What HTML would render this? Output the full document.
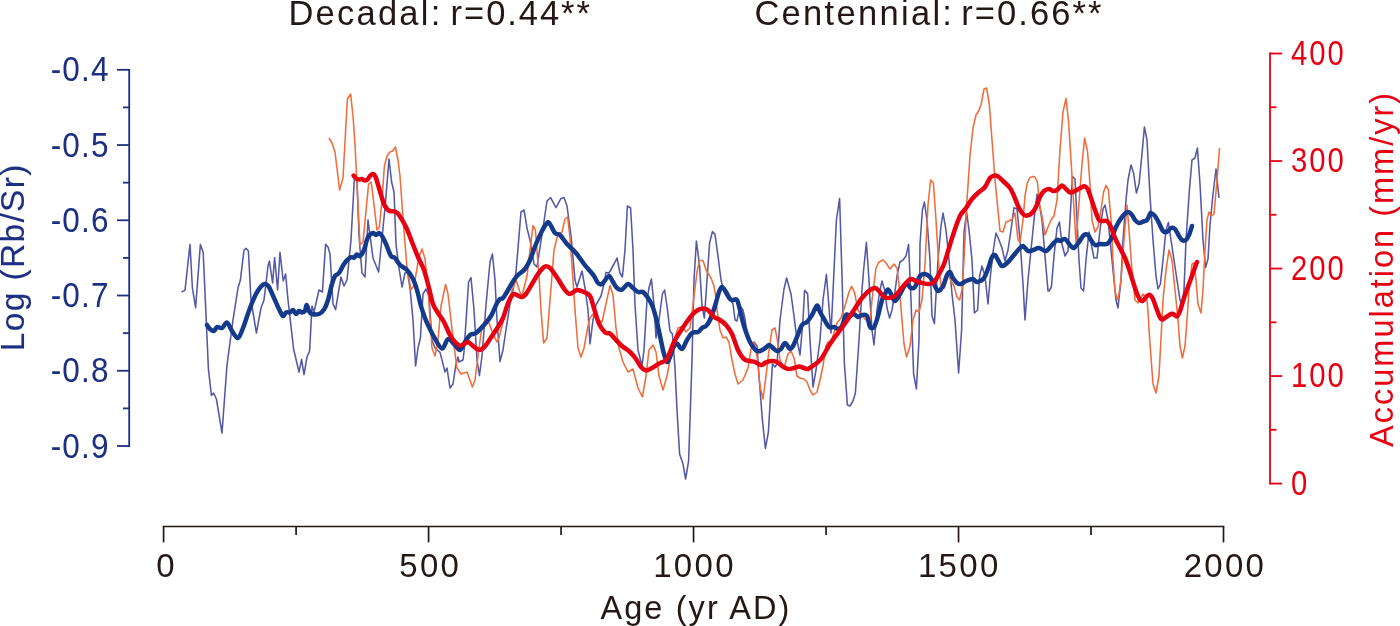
<!DOCTYPE html>
<html lang="en"><head><meta charset="utf-8"><title>Rb/Sr vs Accumulation</title>
<style>
html,body{margin:0;padding:0;background:#fff;}
body{width:1400px;height:626px;overflow:hidden;}
svg{display:block;}
text{font-family:"Liberation Sans",Arial,Helvetica,sans-serif;}
</style></head><body>
<svg width="1400" height="626" viewBox="0 0 1400 626">
<rect width="1400" height="626" fill="#fff"/>
<polyline fill="none" stroke="#5458a6" stroke-width="1.55" stroke-linejoin="round" points="181.6,292.0 185.0,290.4 190.0,244.4 192.4,288.0 195.6,307.6 200.4,244.4 203.2,252.4 208.4,369.0 211.4,395.4 213.6,393.0 216.4,399.0 222.0,433.0 227.0,365.0 233.0,320.0 238.0,288.0 240.4,280.0 244.0,250.0 246.0,248.4 248.4,251.0 251.0,300.0 256.4,333.0 261.0,308.0 264.0,300.0 268.0,266.0 269.4,261.0 272.6,283.0 274.6,257.6 277.6,290.0 280.0,252.4 283.2,281.0 285.6,274.0 288.0,300.0 293.6,349.0 299.0,372.0 301.6,359.4 304.0,374.6 307.0,357.0 309.6,351.0 312.0,306.0 314.0,312.0 319.0,290.0 322.4,292.0 325.6,244.4 328.0,247.0 330.0,254.0 333.0,304.0 335.6,309.6 341.0,277.0 344.0,286.0 347.0,280.0 351.0,240.0 354.4,178.0 357.0,180.0 359.0,236.0 362.0,273.0 365.0,277.0 368.0,220.0 373.0,258.0 378.6,272.0 385.0,208.0 389.0,159.0 391.6,182.0 394.0,192.0 396.0,244.0 399.0,268.0 402.0,287.0 405.0,273.0 407.4,272.0 410.0,288.0 413.0,320.0 415.6,366.0 418.0,348.0 420.4,338.0 423.0,294.0 426.0,289.0 429.0,296.0 432.0,340.0 435.0,348.0 440.0,352.4 443.0,364.0 445.0,372.0 447.0,368.0 450.0,388.0 453.0,384.0 456.0,364.0 458.0,357.0 459.0,362.0 463.0,360.0 464.0,352.0 467.0,306.0 468.6,282.0 471.0,277.6 474.0,310.0 477.0,360.0 479.4,375.6 482.0,356.0 486.0,305.0 490.0,262.0 492.4,254.0 495.0,280.0 497.0,320.0 500.0,361.6 503.0,350.0 507.0,323.0 510.0,304.0 513.0,290.0 516.0,272.0 521.0,212.0 524.0,210.0 527.0,228.0 530.0,240.0 534.0,264.0 537.0,267.0 543.0,228.0 547.0,201.0 550.6,197.6 556.0,207.6 561.0,198.4 564.0,197.6 567.0,206.0 571.0,236.0 575.0,280.0 577.0,287.0 582.0,271.0 585.0,288.0 588.0,310.0 590.0,344.0 593.0,320.0 596.0,305.0 601.0,296.0 604.0,284.0 606.0,272.4 609.0,273.0 614.0,264.0 617.0,258.0 620.0,273.0 622.4,277.0 625.0,250.0 627.4,206.0 630.6,208.0 633.0,250.0 635.0,305.0 638.0,350.0 642.0,366.0 644.0,350.0 647.0,300.0 649.0,288.0 651.4,279.0 654.0,305.0 656.0,338.0 659.0,320.0 662.4,294.0 664.6,290.0 667.0,306.0 670.0,331.0 672.4,334.0 675.0,368.0 677.0,410.0 679.6,454.0 683.0,464.0 685.6,479.0 688.6,461.0 690.0,420.0 692.0,360.0 694.0,280.0 696.4,241.0 699.6,266.0 702.0,306.0 704.4,318.0 707.0,280.0 709.6,243.0 712.4,231.6 715.0,234.4 718.0,256.0 721.0,280.0 724.0,292.0 726.0,295.6 730.0,299.0 733.0,304.0 735.0,320.0 737.0,321.0 740.0,306.0 743.0,310.0 745.0,319.0 748.0,340.0 751.0,346.0 754.0,342.0 757.0,346.0 759.0,376.0 762.4,420.0 765.4,448.4 768.4,432.0 770.0,405.0 772.4,364.0 775.0,367.0 777.0,364.0 780.0,320.0 784.0,289.0 786.6,278.0 791.0,294.0 794.0,316.0 797.0,340.0 800.0,355.0 803.0,320.0 804.6,290.4 807.6,293.6 810.0,340.0 813.0,387.0 816.0,370.0 820.0,340.0 823.0,300.0 826.4,274.4 831.0,333.0 833.0,292.0 836.4,220.0 839.6,198.4 842.0,276.0 844.4,364.0 847.4,405.0 850.0,406.0 853.0,401.0 855.4,393.0 859.0,340.0 862.0,290.0 863.6,270.0 866.4,242.4 869.0,280.0 870.0,300.0 872.0,330.0 874.0,345.0 877.0,310.0 879.6,292.0 882.0,281.0 885.0,291.0 887.0,308.0 889.6,318.0 892.0,310.0 894.4,296.0 897.0,276.0 900.0,262.0 903.0,260.0 906.0,256.0 908.6,244.4 911.0,300.0 913.6,374.0 916.4,389.0 919.0,340.0 920.0,244.0 922.4,210.0 924.4,202.0 927.0,220.0 930.0,260.0 932.0,316.0 934.4,323.6 938.0,260.0 941.0,226.0 943.0,213.0 946.0,230.0 949.0,260.0 952.0,294.0 955.0,320.0 958.6,373.0 961.6,330.0 964.0,232.0 966.6,212.0 969.0,230.0 972.0,260.0 974.4,313.0 977.6,310.0 979.6,276.0 982.0,266.0 985.0,276.0 988.0,304.0 990.0,280.0 993.0,252.0 996.0,233.0 999.0,240.0 1002.0,248.0 1005.0,261.0 1008.0,250.0 1011.0,230.0 1014.0,207.6 1017.0,209.0 1020.0,240.0 1023.0,284.0 1025.0,320.0 1028.0,280.0 1031.0,250.0 1034.0,220.0 1037.0,194.0 1039.0,202.0 1042.0,220.0 1045.0,256.0 1048.0,291.0 1049.0,291.0 1051.4,287.0 1054.0,256.0 1057.0,228.0 1059.4,222.0 1062.0,244.0 1065.0,256.0 1068.0,251.0 1070.0,220.0 1072.4,176.4 1075.0,179.0 1079.0,260.0 1081.0,288.0 1083.6,291.0 1086.0,260.0 1089.0,232.0 1092.0,248.0 1094.0,258.0 1097.0,258.0 1100.0,230.0 1103.0,209.0 1105.0,205.0 1108.0,220.0 1111.0,250.0 1114.0,280.0 1116.0,300.0 1118.0,308.0 1121.0,280.0 1123.0,240.0 1126.0,200.0 1128.0,180.0 1131.0,165.0 1133.6,173.0 1136.4,193.0 1139.0,184.0 1142.0,154.0 1144.4,127.0 1147.0,140.0 1150.0,196.0 1153.0,240.0 1156.0,276.0 1158.0,289.0 1160.4,284.0 1163.0,260.0 1166.0,230.0 1168.4,222.4 1171.0,240.0 1174.0,260.0 1177.0,280.0 1180.0,300.0 1182.0,305.0 1184.0,290.0 1186.0,240.0 1189.4,190.0 1192.0,160.0 1195.0,158.0 1197.4,148.0 1200.0,184.0 1203.0,240.0 1205.6,267.6 1208.0,259.0 1210.0,225.0 1213.0,194.0 1216.0,169.0 1219.0,198.0"/>
<polyline fill="none" stroke="#f06c3a" stroke-width="1.55" stroke-linejoin="round" points="329.0,138.0 332.0,143.0 335.0,152.0 339.6,190.0 343.0,178.0 347.4,99.0 350.6,94.0 353.0,116.0 355.0,144.0 360.0,245.0 363.0,242.0 368.6,184.0 371.0,182.0 372.0,188.0 377.0,230.0 379.4,227.0 382.0,200.0 384.4,166.0 387.0,156.0 390.0,152.0 392.6,151.0 395.4,147.0 398.0,160.0 400.0,176.0 403.0,218.0 407.0,268.0 411.0,289.6 414.0,286.0 419.0,257.0 422.0,249.0 425.0,259.0 428.0,289.0 432.0,348.0 435.0,356.0 438.0,340.0 441.0,306.0 445.6,284.4 448.0,294.0 451.0,320.0 454.0,346.0 457.0,368.0 461.0,374.0 467.0,372.0 472.4,387.0 475.0,380.0 479.0,348.0 482.0,327.0 485.0,320.0 489.0,323.0 493.0,334.0 497.0,342.0 499.0,338.0 502.0,326.0 505.0,314.0 508.0,306.0 512.0,290.0 516.0,280.0 520.0,292.0 522.0,296.0 527.0,276.0 533.0,225.6 535.4,230.0 539.0,276.0 541.0,310.0 543.6,343.0 547.0,338.0 551.0,288.0 554.0,250.0 558.0,234.0 562.0,232.4 565.0,219.0 567.6,217.0 570.0,238.0 573.0,280.0 575.0,310.0 578.0,348.0 581.0,357.0 584.0,348.0 588.0,326.0 590.0,318.0 593.0,314.0 597.0,320.0 602.0,322.0 606.0,304.0 610.0,285.6 613.0,295.0 616.0,328.0 619.0,348.0 623.0,362.0 628.0,372.0 633.0,369.0 638.0,388.0 642.4,397.0 646.0,376.0 649.0,350.0 653.0,345.0 656.0,352.0 659.0,376.0 663.0,390.0 667.0,376.0 670.0,360.0 674.0,340.0 678.0,328.0 682.0,326.4 686.0,332.0 690.0,328.0 693.0,305.0 697.0,272.0 699.6,260.4 703.0,260.4 706.0,270.0 711.0,278.0 714.0,286.0 716.0,298.0 717.0,310.0 720.0,330.0 723.0,338.0 726.0,337.0 729.0,342.0 732.0,360.0 735.0,374.0 738.0,384.0 743.0,380.0 748.0,368.0 751.0,349.0 754.0,342.0 757.0,356.0 760.0,386.0 763.0,399.0 766.0,376.0 769.0,350.0 772.0,330.0 775.0,328.0 777.0,338.0 780.0,360.0 784.0,368.0 788.0,354.0 791.0,351.0 794.0,358.0 797.0,376.0 800.0,378.0 804.0,379.0 807.0,382.0 810.0,390.0 813.0,395.0 817.0,392.0 820.0,380.0 823.0,366.0 826.0,346.0 828.0,342.0 831.0,344.0 833.0,336.0 837.0,323.0 841.0,318.0 845.0,306.0 849.0,292.0 851.6,286.4 854.4,292.0 858.0,310.0 862.0,316.0 866.0,320.0 870.0,323.0 872.0,300.0 876.0,268.0 879.0,262.0 883.0,260.0 886.0,263.0 890.0,269.0 894.0,264.0 897.0,268.0 899.0,284.0 902.0,320.0 904.0,344.0 906.6,357.0 910.0,346.0 913.0,320.0 916.0,310.0 919.0,312.0 922.0,300.0 925.0,264.0 928.0,205.0 930.6,180.0 933.4,183.0 936.0,220.0 939.0,268.0 941.0,285.0 944.4,288.0 948.4,275.0 951.0,281.0 954.0,286.0 957.0,297.0 959.6,300.0 962.0,290.0 964.0,260.0 967.0,200.0 970.0,156.0 973.0,128.0 976.0,115.0 978.6,111.0 981.0,105.0 984.0,89.0 986.6,88.0 989.4,105.0 992.0,140.0 995.0,180.0 997.0,200.0 1000.0,231.0 1003.0,232.0 1006.0,222.0 1009.0,221.0 1012.4,219.0 1015.0,213.0 1018.0,240.0 1020.0,242.0 1023.0,220.0 1025.0,196.0 1027.0,184.0 1029.6,178.0 1032.4,176.4 1035.0,177.0 1037.4,182.0 1039.6,205.0 1042.0,216.0 1045.0,235.0 1048.0,227.0 1051.0,220.0 1054.0,216.0 1057.0,200.0 1060.0,150.0 1063.0,112.0 1066.0,98.4 1068.6,122.0 1071.0,160.0 1076.0,242.0 1082.0,164.0 1084.6,138.0 1087.6,152.0 1090.0,184.0 1092.0,220.0 1095.0,232.0 1098.0,227.0 1101.0,210.0 1103.6,192.0 1106.0,185.4 1108.4,189.6 1111.0,220.0 1113.0,260.0 1115.0,292.0 1118.0,300.0 1121.0,280.0 1124.0,240.0 1127.0,205.0 1129.0,230.0 1132.0,270.0 1135.0,300.0 1138.0,303.0 1143.0,294.0 1147.0,300.0 1148.6,320.0 1149.0,330.0 1153.0,384.0 1156.0,393.0 1159.0,376.0 1162.0,320.0 1163.0,300.0 1166.0,270.0 1169.0,250.0 1172.0,260.0 1175.0,290.0 1178.0,320.0 1180.0,346.0 1182.4,358.0 1185.0,346.0 1187.0,320.0 1189.0,290.0 1192.0,264.0 1194.0,263.0 1196.0,280.0 1198.0,304.0 1201.0,313.0 1203.0,290.0 1205.0,250.0 1207.0,220.0 1209.0,212.0 1211.4,216.0 1214.0,214.0 1217.0,180.0 1219.6,148.0"/>
<path fill="none" stroke="#143a8c" stroke-width="4.5" stroke-linejoin="round" stroke-linecap="round" d="M207.0,325.0C207.5,325.7 208.8,328.0 210.0,329.0C211.2,330.0 212.8,331.3 214.0,331.0C215.2,330.7 215.7,327.5 217.0,327.0C218.3,326.5 220.3,328.7 222.0,328.0C223.7,327.3 225.3,322.1 227.0,322.6C228.7,323.1 230.2,328.4 232.0,331.0C233.8,333.6 236.2,338.5 238.0,338.0C239.8,337.5 241.0,333.0 243.0,328.0C245.0,323.0 247.8,313.7 250.0,308.0C252.2,302.3 254.2,297.6 256.0,294.0C257.8,290.4 259.5,288.1 261.0,286.4C262.5,284.7 263.7,283.9 265.0,284.0C266.3,284.1 267.5,284.7 269.0,287.0C270.5,289.3 272.3,294.3 274.0,298.0C275.7,301.7 277.5,306.0 279.0,309.0C280.5,312.0 281.8,315.4 283.0,316.0C284.2,316.6 284.8,313.0 286.0,312.4C287.2,311.8 288.8,312.8 290.0,312.4C291.2,312.0 292.0,309.7 293.0,310.0C294.0,310.3 295.0,313.8 296.0,314.0C297.0,314.2 298.0,311.3 299.0,311.0C300.0,310.7 301.0,312.4 302.0,312.4C303.0,312.4 304.2,312.2 305.0,311.0C305.8,309.8 305.9,305.0 306.6,305.0C307.3,305.0 308.1,309.5 309.0,311.0C309.9,312.5 310.3,313.5 312.0,314.0C313.7,314.5 317.0,314.7 319.0,314.0C321.0,313.3 322.5,311.9 324.0,309.6C325.5,307.3 326.7,304.3 328.0,300.0C329.3,295.7 330.8,288.0 332.0,284.0C333.2,280.0 333.8,277.8 335.0,276.0C336.2,274.2 337.5,275.0 339.0,273.0C340.5,271.0 342.2,266.6 344.0,264.0C345.8,261.4 348.3,258.7 350.0,257.6C351.7,256.5 352.8,258.1 354.0,257.6C355.2,257.1 356.0,254.7 357.0,254.4C358.0,254.1 358.8,256.7 360.0,256.0C361.2,255.3 362.7,253.2 364.0,250.0C365.3,246.8 366.5,239.8 368.0,237.0C369.5,234.2 371.7,233.3 373.0,233.0C374.3,232.7 375.0,235.0 376.0,235.0C377.0,235.0 378.0,232.8 379.0,233.0C380.0,233.2 380.8,234.2 382.0,236.0C383.2,237.8 384.5,240.7 386.0,244.0C387.5,247.3 389.5,253.7 391.0,256.0C392.5,258.3 393.5,256.5 395.0,258.0C396.5,259.5 398.0,263.0 400.0,265.0C402.0,267.0 404.8,267.7 407.0,270.0C409.2,272.3 411.3,275.7 413.0,279.0C414.7,282.3 415.7,285.5 417.0,290.0C418.3,294.5 419.7,301.3 421.0,306.0C422.3,310.7 423.8,314.8 425.0,318.0C426.2,321.2 426.5,321.8 428.0,325.0C429.5,328.2 431.7,333.1 434.0,337.0C436.3,340.9 439.7,348.3 442.0,348.6C444.3,348.9 446.0,339.8 448.0,339.0C450.0,338.2 452.0,342.2 454.0,344.0C456.0,345.8 458.2,350.3 460.0,350.0C461.8,349.7 463.3,344.5 465.0,342.0C466.7,339.5 468.2,336.5 470.0,335.0C471.8,333.5 473.7,334.7 476.0,333.0C478.3,331.3 481.5,327.8 484.0,325.0C486.5,322.2 488.8,319.7 491.0,316.0C493.2,312.3 495.5,305.8 497.0,303.0C498.5,300.2 499.0,299.8 500.0,299.0C501.0,298.2 501.7,299.5 503.0,298.0C504.3,296.5 506.2,293.0 508.0,290.0C509.8,287.0 512.3,282.5 514.0,280.0C515.7,277.5 516.2,276.8 518.0,275.0C519.8,273.2 523.0,271.5 525.0,269.0C527.0,266.5 528.2,264.2 530.0,260.0C531.8,255.8 534.0,248.8 536.0,244.0C538.0,239.2 540.2,234.5 542.0,231.0C543.8,227.5 545.7,224.2 547.0,223.0C548.3,221.8 548.7,222.3 550.0,224.0C551.3,225.7 553.3,231.2 555.0,233.0C556.7,234.8 558.0,233.2 560.0,235.0C562.0,236.8 564.3,241.0 567.0,244.0C569.7,247.0 573.2,249.7 576.0,253.0C578.8,256.3 581.7,261.0 584.0,264.0C586.3,267.0 588.3,269.0 590.0,271.0C591.7,273.0 592.7,274.0 594.0,276.0C595.3,278.0 596.7,281.7 598.0,283.0C599.3,284.3 600.7,284.7 602.0,284.0C603.3,283.3 604.8,280.3 606.0,279.0C607.2,277.7 608.2,275.5 609.4,276.0C610.6,276.5 611.7,280.0 613.0,282.0C614.3,284.0 615.5,286.7 617.0,288.0C618.5,289.3 620.2,290.3 622.0,289.6C623.8,288.9 626.2,284.3 628.0,284.0C629.8,283.7 631.3,286.7 633.0,288.0C634.7,289.3 636.3,291.3 638.0,292.0C639.7,292.7 641.3,291.0 643.0,292.0C644.7,293.0 646.4,295.7 648.0,298.0C649.6,300.3 651.1,302.7 652.4,306.0C653.7,309.3 654.7,313.0 656.0,318.0C657.3,323.0 658.7,330.0 660.0,336.0C661.3,342.0 662.8,349.7 664.0,354.0C665.2,358.3 666.0,361.5 667.0,362.0C668.0,362.5 669.0,359.3 670.0,357.0C671.0,354.7 671.8,350.2 673.0,348.0C674.2,345.8 675.5,343.4 677.0,343.6C678.5,343.8 680.3,349.6 682.0,349.0C683.7,348.4 685.3,342.7 687.0,340.0C688.7,337.3 690.2,334.3 692.0,333.0C693.8,331.7 696.3,332.8 698.0,332.0C699.7,331.2 700.7,329.0 702.0,328.0C703.3,327.0 704.7,327.3 706.0,326.0C707.3,324.7 708.5,323.3 710.0,320.0C711.5,316.7 713.5,310.7 715.0,306.0C716.5,301.3 717.8,295.2 719.0,292.0C720.2,288.8 720.8,287.0 722.0,287.0C723.2,287.0 724.7,290.0 726.0,292.0C727.3,294.0 728.8,297.7 730.0,299.0C731.2,300.3 731.8,299.8 733.0,300.0C734.2,300.2 735.8,298.3 737.0,300.0C738.2,301.7 738.8,305.7 740.0,310.0C741.2,314.3 742.3,320.7 744.0,326.0C745.7,331.3 747.8,337.8 750.0,342.0C752.2,346.2 754.7,349.8 757.0,351.0C759.3,352.2 762.0,350.0 764.0,349.0C766.0,348.0 767.5,345.2 769.0,345.0C770.5,344.8 771.7,347.0 773.0,348.0C774.3,349.0 775.7,350.8 777.0,351.0C778.3,351.2 779.7,350.3 781.0,349.0C782.3,347.7 783.5,343.0 785.0,343.0C786.5,343.0 788.7,348.5 790.0,349.0C791.3,349.5 791.8,348.0 793.0,346.0C794.2,344.0 795.5,340.5 797.0,337.0C798.5,333.5 800.3,327.5 802.0,325.0C803.7,322.5 805.3,323.7 807.0,322.0C808.7,320.3 810.3,317.7 812.0,315.0C813.7,312.3 815.7,306.1 817.0,305.6C818.3,305.1 818.8,309.8 820.0,312.0C821.2,314.2 822.5,316.5 824.0,319.0C825.5,321.5 827.3,325.7 829.0,327.0C830.7,328.3 832.5,326.7 834.0,327.0C835.5,327.3 836.7,329.2 838.0,329.0C839.3,328.8 840.7,328.3 842.0,326.0C843.3,323.7 844.7,316.7 846.0,315.0C847.3,313.3 848.7,316.2 850.0,316.0C851.3,315.8 852.7,313.8 854.0,314.0C855.3,314.2 856.7,316.8 858.0,317.0C859.3,317.2 860.5,315.2 862.0,315.0C863.5,314.8 865.7,314.0 867.0,316.0C868.3,318.0 868.8,325.2 870.0,327.0C871.2,328.8 872.7,328.8 874.0,327.0C875.3,325.2 876.7,320.5 878.0,316.0C879.3,311.5 880.8,303.7 882.0,300.0C883.2,296.3 884.0,295.7 885.0,294.0C886.0,292.3 887.0,289.6 888.0,289.6C889.0,289.6 889.8,292.1 891.0,294.0C892.2,295.9 893.5,301.0 895.0,301.0C896.5,301.0 898.2,296.8 900.0,294.0C901.8,291.2 904.2,285.0 906.0,284.0C907.8,283.0 909.5,287.5 911.0,288.0C912.5,288.5 913.5,289.0 915.0,287.0C916.5,285.0 918.3,278.2 920.0,276.0C921.7,273.8 923.3,273.8 925.0,274.0C926.7,274.2 928.5,275.3 930.0,277.0C931.5,278.7 932.7,281.7 934.0,284.0C935.3,286.3 936.5,290.7 938.0,291.0C939.5,291.3 941.5,288.7 943.0,286.0C944.5,283.3 945.8,277.3 947.0,275.0C948.2,272.7 949.0,271.5 950.0,272.0C951.0,272.5 951.8,276.2 953.0,278.0C954.2,279.8 955.7,282.0 957.0,283.0C958.3,284.0 959.5,284.3 961.0,284.0C962.5,283.7 964.0,281.8 966.0,281.0C968.0,280.2 971.2,278.8 973.0,279.0C974.8,279.2 975.2,282.2 977.0,282.0C978.8,281.8 982.0,280.7 984.0,278.0C986.0,275.3 987.7,269.5 989.0,266.0C990.3,262.5 991.0,258.8 992.0,257.0C993.0,255.2 994.0,254.5 995.0,255.0C996.0,255.5 996.8,258.2 998.0,260.0C999.2,261.8 1000.5,265.5 1002.0,266.0C1003.5,266.5 1005.0,264.8 1007.0,263.0C1009.0,261.2 1012.0,257.3 1014.0,255.0C1016.0,252.7 1017.5,250.5 1019.0,249.0C1020.5,247.5 1021.5,245.7 1023.0,246.0C1024.5,246.3 1026.3,250.3 1028.0,251.0C1029.7,251.7 1031.2,250.5 1033.0,250.0C1034.8,249.5 1036.8,247.8 1039.0,248.0C1041.2,248.2 1043.8,251.5 1046.0,251.0C1048.2,250.5 1050.2,246.8 1052.0,245.0C1053.8,243.2 1055.7,240.7 1057.0,240.0C1058.3,239.3 1058.7,241.2 1060.0,241.0C1061.3,240.8 1063.3,238.3 1065.0,239.0C1066.7,239.7 1068.5,243.5 1070.0,245.0C1071.5,246.5 1072.5,248.5 1074.0,248.0C1075.5,247.5 1077.3,244.2 1079.0,242.0C1080.7,239.8 1082.5,236.2 1084.0,235.0C1085.5,233.8 1086.8,234.2 1088.0,235.0C1089.2,235.8 1089.8,238.3 1091.0,240.0C1092.2,241.7 1093.5,244.3 1095.0,245.0C1096.5,245.7 1098.0,244.2 1100.0,244.0C1102.0,243.8 1105.2,244.8 1107.0,244.0C1108.8,243.2 1109.5,241.8 1111.0,239.0C1112.5,236.2 1114.2,230.7 1116.0,227.0C1117.8,223.3 1120.0,219.5 1122.0,217.0C1124.0,214.5 1126.3,212.3 1128.0,212.0C1129.7,211.7 1130.8,213.7 1132.0,215.0C1133.2,216.3 1133.8,218.7 1135.0,220.0C1136.2,221.3 1137.7,222.7 1139.0,223.0C1140.3,223.3 1141.7,222.1 1143.0,221.6C1144.3,221.1 1145.8,221.3 1147.0,220.0C1148.2,218.7 1149.3,215.2 1150.0,214.0C1150.7,212.8 1150.2,212.7 1151.0,213.0C1151.8,213.3 1153.7,214.3 1155.0,216.0C1156.3,217.7 1157.7,220.5 1159.0,223.0C1160.3,225.5 1161.7,229.5 1163.0,231.0C1164.3,232.5 1165.7,232.5 1167.0,232.0C1168.3,231.5 1169.7,228.5 1171.0,228.0C1172.3,227.5 1173.7,227.7 1175.0,229.0C1176.3,230.3 1177.8,234.2 1179.0,236.0C1180.2,237.8 1180.8,239.3 1182.0,240.0C1183.2,240.7 1184.8,240.8 1186.0,240.0C1187.2,239.2 1188.0,237.3 1189.0,235.0C1190.0,232.7 1191.5,227.5 1192.0,226.0"/>
<path fill="none" stroke="#e60012" stroke-width="4.5" stroke-linejoin="round" stroke-linecap="round" d="M353.6,175.6C354.2,176.2 355.9,178.4 357.0,179.0C358.1,179.6 359.2,179.4 360.0,179.4C360.8,179.4 361.2,178.8 362.0,179.0C362.8,179.2 364.0,180.6 365.0,180.6C366.0,180.6 367.2,179.8 368.0,179.0C368.8,178.2 369.2,176.8 370.0,176.0C370.8,175.2 372.1,173.8 373.0,174.0C373.9,174.2 374.6,174.7 375.6,177.0C376.6,179.3 377.9,184.5 379.0,188.0C380.1,191.5 381.2,195.3 382.0,198.0C382.8,200.7 383.2,202.2 384.0,204.0C384.8,205.8 386.0,207.8 387.0,209.0C388.0,210.2 388.7,210.6 390.0,211.0C391.3,211.4 393.5,210.9 395.0,211.6C396.5,212.3 397.2,212.4 399.0,215.0C400.8,217.6 403.8,222.5 406.0,227.0C408.2,231.5 410.0,237.0 412.0,242.0C414.0,247.0 416.0,252.3 418.0,257.0C420.0,261.7 422.2,264.8 424.0,270.0C425.8,275.2 427.5,282.3 429.0,288.0C430.5,293.7 431.5,299.8 433.0,304.0C434.5,308.2 436.2,310.0 438.0,313.0C439.8,316.0 442.0,318.3 444.0,322.0C446.0,325.7 448.0,331.5 450.0,335.0C452.0,338.5 454.3,341.2 456.0,343.0C457.7,344.8 458.7,345.4 460.0,345.6C461.3,345.8 462.7,344.6 464.0,344.0C465.3,343.4 466.7,341.8 468.0,342.0C469.3,342.2 470.5,343.8 472.0,345.0C473.5,346.2 475.5,348.2 477.0,349.0C478.5,349.8 479.5,350.3 481.0,349.6C482.5,348.9 484.2,347.3 486.0,345.0C487.8,342.7 490.0,339.0 492.0,336.0C494.0,333.0 496.2,330.0 498.0,327.0C499.8,324.0 501.5,321.5 503.0,318.0C504.5,314.5 505.7,309.5 507.0,306.0C508.3,302.5 509.8,299.0 511.0,297.0C512.2,295.0 512.8,294.2 514.0,294.0C515.2,293.8 516.7,295.1 518.0,295.6C519.3,296.1 520.7,297.3 522.0,297.0C523.3,296.7 524.3,296.2 526.0,294.0C527.7,291.8 530.0,287.3 532.0,284.0C534.0,280.7 536.2,276.7 538.0,274.0C539.8,271.3 541.5,269.3 543.0,268.0C544.5,266.7 545.7,266.2 547.0,266.4C548.3,266.6 549.2,266.9 551.0,269.0C552.8,271.1 555.7,275.5 558.0,279.0C560.3,282.5 563.0,287.5 565.0,290.0C567.0,292.5 568.0,294.0 570.0,294.0C572.0,294.0 574.7,290.3 577.0,290.0C579.3,289.7 581.8,291.0 584.0,292.0C586.2,293.0 588.3,293.3 590.0,296.0C591.7,298.7 592.5,303.8 594.0,308.4C595.5,313.0 597.2,319.6 599.0,323.6C600.8,327.6 603.2,330.7 605.0,332.4C606.8,334.1 608.2,332.3 610.0,333.6C611.8,334.9 614.0,337.9 616.0,340.0C618.0,342.1 619.7,344.0 622.0,346.0C624.3,348.0 627.7,349.8 630.0,352.0C632.3,354.2 634.2,356.5 636.0,359.0C637.8,361.5 639.3,365.1 641.0,367.0C642.7,368.9 644.2,370.2 646.0,370.4C647.8,370.6 649.8,369.1 652.0,368.0C654.2,366.9 656.7,364.9 659.0,363.6C661.3,362.3 664.2,361.9 666.0,360.0C667.8,358.1 668.7,355.0 670.0,352.0C671.3,349.0 672.3,345.3 674.0,342.0C675.7,338.7 678.0,335.2 680.0,332.0C682.0,328.8 684.0,325.8 686.0,323.0C688.0,320.2 690.0,317.2 692.0,315.0C694.0,312.8 696.0,311.1 698.0,310.0C700.0,308.9 702.2,308.4 704.0,308.6C705.8,308.8 707.3,309.6 709.0,311.0C710.7,312.4 712.2,315.5 714.0,317.0C715.8,318.5 718.0,318.7 720.0,320.0C722.0,321.3 724.0,322.7 726.0,325.0C728.0,327.3 730.0,329.8 732.0,334.0C734.0,338.2 736.0,345.8 738.0,350.0C740.0,354.2 742.0,357.2 744.0,359.0C746.0,360.8 748.2,360.5 750.0,361.0C751.8,361.5 753.2,361.3 755.0,362.0C756.8,362.7 759.2,364.9 761.0,365.0C762.8,365.1 764.3,363.1 766.0,362.4C767.7,361.7 769.2,361.1 771.0,361.0C772.8,360.9 775.2,361.2 777.0,362.0C778.8,362.8 780.2,364.8 782.0,366.0C783.8,367.2 786.0,368.7 788.0,369.0C790.0,369.3 792.2,368.4 794.0,368.0C795.8,367.6 797.3,366.4 799.0,366.4C800.7,366.4 802.5,367.6 804.0,368.0C805.5,368.4 806.3,369.5 808.0,369.0C809.7,368.5 811.8,366.7 814.0,365.0C816.2,363.3 818.3,362.5 821.0,359.0C823.7,355.5 827.2,348.3 830.0,344.0C832.8,339.7 835.3,336.7 838.0,333.0C840.7,329.3 843.3,325.8 846.0,322.0C848.7,318.2 851.3,314.0 854.0,310.0C856.7,306.0 859.3,301.3 862.0,298.0C864.7,294.7 867.8,291.7 870.0,290.0C872.2,288.3 873.5,287.8 875.0,288.0C876.5,288.2 877.5,289.5 879.0,291.0C880.5,292.5 882.3,295.8 884.0,297.0C885.7,298.2 887.2,298.2 889.0,298.0C890.8,297.8 893.0,297.5 895.0,296.0C897.0,294.5 899.2,291.2 901.0,289.0C902.8,286.8 904.3,284.7 906.0,283.0C907.7,281.3 909.3,279.3 911.0,279.0C912.7,278.7 914.2,280.3 916.0,281.0C917.8,281.7 919.8,282.5 922.0,283.0C924.2,283.5 927.0,284.2 929.0,284.0C931.0,283.8 932.3,283.7 934.0,282.0C935.7,280.3 937.3,277.0 939.0,274.0C940.7,271.0 942.3,268.3 944.0,264.0C945.7,259.7 947.3,253.3 949.0,248.0C950.7,242.7 952.2,237.3 954.0,232.0C955.8,226.7 958.0,220.0 960.0,216.0C962.0,212.0 964.0,210.8 966.0,208.0C968.0,205.2 969.8,201.7 972.0,199.0C974.2,196.3 976.8,194.0 979.0,192.0C981.2,190.0 983.2,189.3 985.0,187.0C986.8,184.7 988.5,179.9 990.0,178.0C991.5,176.1 992.7,175.9 994.0,175.6C995.3,175.3 996.5,175.5 998.0,176.4C999.5,177.3 1001.0,179.1 1003.0,181.0C1005.0,182.9 1008.2,185.5 1010.0,188.0C1011.8,190.5 1012.5,192.7 1014.0,196.0C1015.5,199.3 1017.5,205.0 1019.0,208.0C1020.5,211.0 1021.7,212.7 1023.0,214.0C1024.3,215.3 1025.5,215.8 1027.0,215.6C1028.5,215.4 1030.5,214.4 1032.0,213.0C1033.5,211.6 1034.7,209.7 1036.0,207.0C1037.3,204.3 1038.7,199.7 1040.0,197.0C1041.3,194.3 1042.5,192.3 1044.0,191.0C1045.5,189.7 1047.5,189.0 1049.0,189.0C1050.5,189.0 1051.7,190.8 1053.0,191.0C1054.3,191.2 1055.6,190.9 1057.0,190.0C1058.4,189.1 1060.3,185.9 1061.6,185.6C1062.9,185.3 1063.6,186.9 1065.0,188.0C1066.4,189.1 1068.3,191.9 1070.0,192.4C1071.7,192.9 1073.2,191.8 1075.0,191.0C1076.8,190.2 1079.3,188.4 1081.0,187.6C1082.7,186.8 1083.8,186.1 1085.0,186.4C1086.2,186.7 1087.0,187.7 1088.0,189.6C1089.0,191.5 1089.8,194.6 1091.0,198.0C1092.2,201.4 1093.7,206.3 1095.0,210.0C1096.3,213.7 1097.7,218.2 1099.0,220.0C1100.3,221.8 1101.7,220.8 1103.0,221.0C1104.3,221.2 1105.7,220.0 1107.0,221.0C1108.3,222.0 1109.7,224.2 1111.0,227.0C1112.3,229.8 1113.5,234.5 1115.0,238.0C1116.5,241.5 1118.3,244.7 1120.0,248.0C1121.7,251.3 1123.3,254.0 1125.0,258.0C1126.7,262.0 1128.5,267.5 1130.0,272.0C1131.5,276.5 1132.7,281.0 1134.0,285.0C1135.3,289.0 1136.7,293.3 1138.0,296.0C1139.3,298.7 1140.5,301.0 1142.0,301.0C1143.5,301.0 1145.7,297.0 1147.0,296.0C1148.3,295.0 1149.0,294.5 1150.0,295.0C1151.0,295.5 1151.8,296.5 1153.0,299.0C1154.2,301.5 1155.7,306.7 1157.0,310.0C1158.3,313.3 1159.7,317.7 1161.0,319.0C1162.3,320.3 1163.5,318.8 1165.0,318.0C1166.5,317.2 1168.7,315.1 1170.0,314.4C1171.3,313.7 1171.8,313.7 1173.0,314.0C1174.2,314.3 1175.8,316.9 1177.0,316.4C1178.2,315.9 1178.8,314.1 1180.0,311.0C1181.2,307.9 1182.5,302.5 1184.0,298.0C1185.5,293.5 1187.5,288.2 1189.0,284.0C1190.5,279.8 1191.7,276.7 1193.0,273.0C1194.3,269.3 1196.3,263.8 1197.0,262.0"/>
<g stroke="#1d2f82" stroke-width="1.8" fill="none"><line x1="129.2" y1="68.89999999999999" x2="129.2" y2="446.90"/><line x1="117" y1="69.80" x2="129.2" y2="69.80"/><line x1="123" y1="107.42" x2="129.2" y2="107.42"/><line x1="117" y1="145.04" x2="129.2" y2="145.04"/><line x1="123" y1="182.66" x2="129.2" y2="182.66"/><line x1="117" y1="220.28" x2="129.2" y2="220.28"/><line x1="123" y1="257.90" x2="129.2" y2="257.90"/><line x1="117" y1="295.52" x2="129.2" y2="295.52"/><line x1="123" y1="333.14" x2="129.2" y2="333.14"/><line x1="117" y1="370.76" x2="129.2" y2="370.76"/><line x1="123" y1="408.38" x2="129.2" y2="408.38"/><line x1="117" y1="446.00" x2="129.2" y2="446.00"/></g>
<g fill="#1d2f82" font-size="34.3" text-anchor="end" letter-spacing="1.3"><text transform="translate(109.8,81.30) scale(0.92,1)">-0.4</text><text transform="translate(109.8,156.54) scale(0.92,1)">-0.5</text><text transform="translate(109.8,231.78) scale(0.92,1)">-0.6</text><text transform="translate(109.8,307.02) scale(0.92,1)">-0.7</text><text transform="translate(109.8,382.26) scale(0.92,1)">-0.8</text><text transform="translate(109.8,457.50) scale(0.92,1)">-0.9</text></g>
<text transform="translate(24.4,257.9) rotate(-90)" fill="#1d2f82" stroke="#1d2f82" stroke-width="0.1" font-size="33.5" text-anchor="middle" textLength="186.5" lengthAdjust="spacing">Log (Rb/Sr)</text>
<g stroke="#e60012" stroke-width="1.8" fill="none"><line x1="1270" y1="52.6" x2="1270" y2="484.48"/><line x1="1270" y1="53.50" x2="1282.2" y2="53.50"/><line x1="1270" y1="107.26" x2="1276.5" y2="107.26"/><line x1="1270" y1="161.02" x2="1282.2" y2="161.02"/><line x1="1270" y1="214.78" x2="1276.5" y2="214.78"/><line x1="1270" y1="268.54" x2="1282.2" y2="268.54"/><line x1="1270" y1="322.30" x2="1276.5" y2="322.30"/><line x1="1270" y1="376.06" x2="1282.2" y2="376.06"/><line x1="1270" y1="429.82" x2="1276.5" y2="429.82"/><line x1="1270" y1="483.58" x2="1282.2" y2="483.58"/></g>
<g fill="#e60012" font-size="34.8" letter-spacing="2.45"><text transform="translate(1291.0,64.90) scale(0.84,1)">400</text><text transform="translate(1291.0,172.42) scale(0.84,1)">300</text><text transform="translate(1291.0,279.94) scale(0.84,1)">200</text><text transform="translate(1291.0,387.46) scale(0.84,1)">100</text><text transform="translate(1291.0,494.98) scale(0.84,1)">0</text></g>
<text transform="translate(1392.8,269.9) rotate(-90)" fill="#e60012" font-size="32.5" text-anchor="middle" textLength="354" lengthAdjust="spacing">Accumulation (mm/yr)</text>
<g stroke="#231815" stroke-width="1.7" fill="none"><line x1="162.75" y1="526.5" x2="1224.35" y2="526.5"/><line x1="163.60" y1="526.5" x2="163.60" y2="542.4"/><line x1="296.09" y1="526.5" x2="296.09" y2="535"/><line x1="428.58" y1="526.5" x2="428.58" y2="542.4"/><line x1="561.06" y1="526.5" x2="561.06" y2="535"/><line x1="693.55" y1="526.5" x2="693.55" y2="542.4"/><line x1="826.04" y1="526.5" x2="826.04" y2="535"/><line x1="958.53" y1="526.5" x2="958.53" y2="542.4"/><line x1="1091.01" y1="526.5" x2="1091.01" y2="535"/><line x1="1223.50" y1="526.5" x2="1223.50" y2="542.4"/></g>
<g fill="#231815" font-size="33" text-anchor="middle" letter-spacing="2.3"><text x="166.55" y="577">0</text><text x="430.23" y="577">500</text><text x="694.50" y="577">1000</text><text x="959.28" y="577">1500</text><text x="1224.95" y="577">2000</text></g>
<text x="600.4" y="619" fill="#231815" font-size="32.5" textLength="189" lengthAdjust="spacing">Age (yr AD)</text>
<text y="25" fill="#231815" font-size="34.5"><tspan x="288.4" letter-spacing="2.25">Decadal: </tspan><tspan x="450.6" letter-spacing="1.95">r=0.44**</tspan></text>
<text y="25" fill="#231815" font-size="34.5"><tspan x="754.4" letter-spacing="2.3">Centennial: </tspan><tspan x="961.2" letter-spacing="2.1">r=0.66**</tspan></text>
</svg>
</body></html>
